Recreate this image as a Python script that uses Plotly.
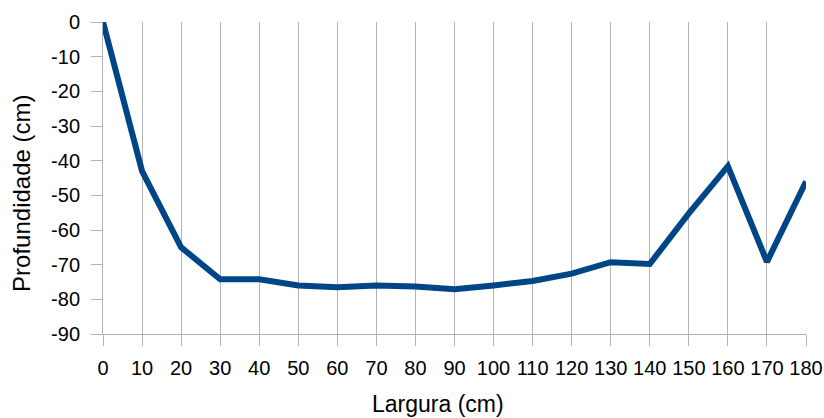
import plotly.graph_objects as go

largura = [0, 10, 20, 30, 40, 50, 60, 70, 80, 90, 100, 110, 120, 130, 140, 150, 160, 170, 180]
profundidade = [0, -43, -65, -74.2, -74.2, -76, -76.5, -76, -76.3, -77.1, -76, -74.7, -72.6, -69.3, -69.8, -55.2, -41.6, -69.2, -46]
y_ticks = [0, -10, -20, -30, -40, -50, -60, -70, -80, -90]
x_title = "Largura (cm)"
y_title = "Profundidade (cm)"

fig = go.Figure()
fig.add_trace(go.Scatter(x=largura, y=profundidade, mode="lines",
                         line=dict(color="#004586", width=6), showlegend=False))

fig.update_layout(
    width=824, height=418,
    margin=dict(l=103, r=18, t=22, b=84),
    paper_bgcolor="white", plot_bgcolor="white",
    font=dict(family="Liberation Sans, Arial, sans-serif", size=20, color="black"),
)
fig.update_xaxes(
    range=[0, 180], tickvals=largura, ticktext=[str(v) for v in largura],
    showgrid=True, gridcolor="#b3b3b3", gridwidth=1,
    showline=True, linecolor="#b3b3b3", linewidth=1,
    ticks="outside", ticklen=11, tickcolor="#b3b3b3",
    ticklabelstandoff=5,
    zeroline=False, automargin=False,
)
fig.update_yaxes(
    range=[-90, 0], tickvals=y_ticks, ticktext=[str(v) for v in y_ticks],
    showgrid=False,
    showline=True, linecolor="#b3b3b3", linewidth=1,
    ticks="outside", ticklen=11, tickcolor="#b3b3b3",
    ticklabelstandoff=7,
    zeroline=False, automargin=False,
)
fig.add_annotation(text=x_title, xref="paper", yref="paper", x=0.4765, y=-0.225,
                   xanchor="center", yanchor="middle", showarrow=False,
                   font=dict(size=23))
fig.add_annotation(text=y_title, xref="paper", yref="paper", x=-0.1152, y=0.449,
                   xanchor="center", yanchor="middle", showarrow=False, textangle=-90,
                   font=dict(size=24))

fig.write_html("out.html", config={"displayModeBar": False},
               post_script="document.body.style.margin='0';document.body.style.overflow='hidden';")
